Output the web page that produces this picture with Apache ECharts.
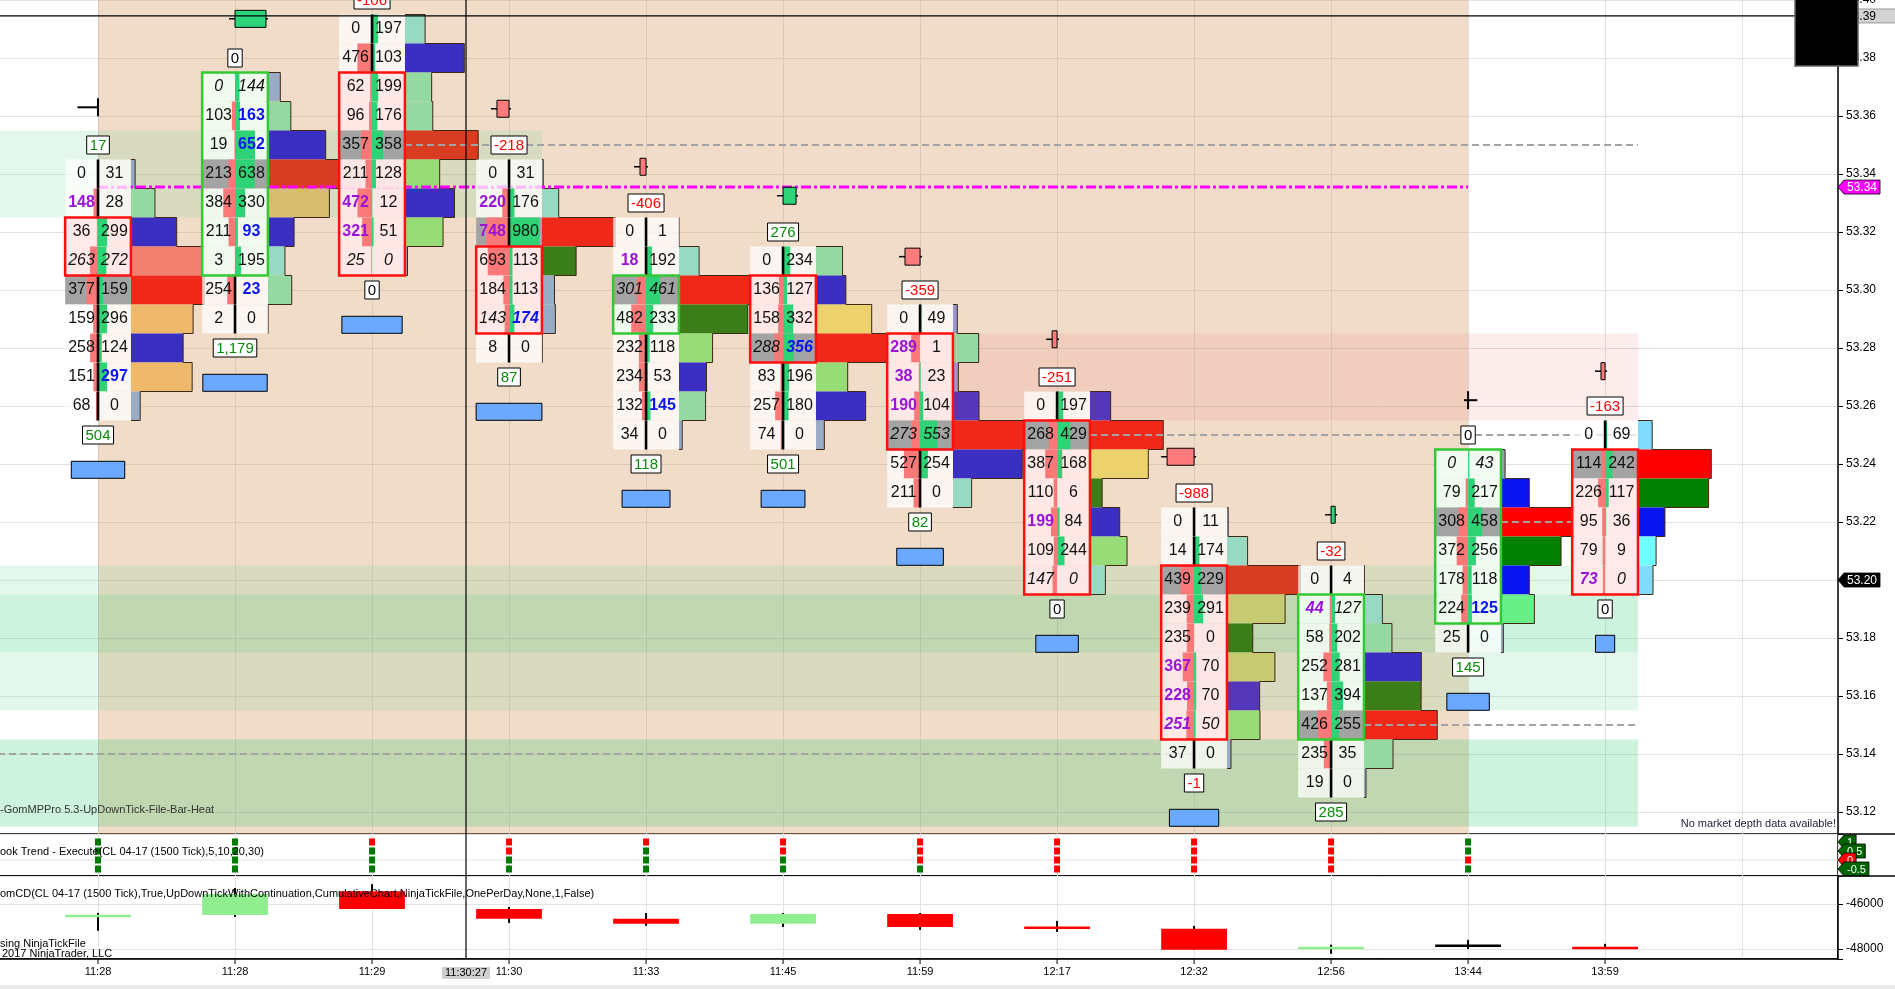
<!DOCTYPE html>
<html><head><meta charset="utf-8">
<script src="https://cdn.jsdelivr.net/npm/echarts@6/dist/echarts.min.js"></script>
<style>html,body{margin:0;padding:0;background:#fff;overflow:hidden}#c{width:1895px;height:989px}</style>
</head><body><div id="c"></div>
<script>
// ================= DATA =================
const times = ['11:28','11:28','11:29','11:30','11:33','11:45','11:59','12:17','12:32','12:56','13:44','13:59'];
const topPrice = [53.34,53.37,53.39,53.34,53.32,53.31,53.29,53.26,53.22,53.20,53.24,53.25];
const bidVol = [
 [0,148,36,263,377,159,258,151,68],
 [0,103,19,213,384,211,3,254,2],
 [0,476,62,96,357,211,472,321,25],
 [0,220,748,693,184,143,8],
 [0,18,301,482,232,234,132,34],
 [0,136,158,288,83,257,74],
 [0,289,38,190,273,527,211],
 [0,268,387,110,199,109,147],
 [0,14,439,239,235,367,228,251,37],
 [0,44,58,252,137,426,235,19],
 [0,79,308,372,178,224,25],
 [0,114,226,95,79,73]
];
const askVol = [
 [31,28,299,272,159,296,124,297,0],
 [144,163,652,638,330,93,195,23,0],
 [197,103,199,176,358,128,12,51,0],
 [31,176,980,113,113,174,0],
 [1,192,461,233,118,53,145,0],
 [234,127,332,356,196,180,0],
 [49,1,23,104,553,254,0],
 [197,429,168,6,84,244,0],
 [11,174,229,291,0,70,70,50,0],
 [4,127,202,281,394,255,35,0],
 [43,217,458,256,118,125,0],
 [69,242,117,36,9,0]
];
const bidImb = [[1],[],[6,7],[1,2],[1],[],[1,2,3],[4],[5,6,7],[1],[],[5]];
const askImb = [[7],[1,2,5,7],[],[5],[6],[3],[],[],[],[],[5],[]];
const closeRow = [3,0,8,5,2,3,4,6,7,1,0,5];
const pocRow = [4,3,4,2,2,3,4,1,2,5,2,1];
const stackFrom = [2,0,2,3,2,1,1,1,2,1,0,1];
const stackTo = [3,6,8,5,3,3,4,6,7,5,5,5];
const stackSide = ['R','G','R','R','G','R','R','R','R','G','G','R'];
const profColor = [
 ['SL','MG','B','S','R','O','B','O','SL'],
 ['SL','MG','B','RO','KH','B','TG','MG','SL'],
 ['TG','B','MG','MG','RO','LG','B','LG','SL'],
 ['SL','TG','R','G','SL','SL','SL'],
 ['SL','TG','R','G','LG','B','MG','SL'],
 ['MG','B','Y','R','LG','B','SL'],
 ['LV','MG','LV','P','R','B','TG'],
 ['P','R','Y','G','B','LG','TG'],
 ['SL','TG','RO','OL','G','OL','P','LG','SL'],
 ['SL','TG','MG','B','G','R','MG','SL'],
 ['LV','BB','RR','GG','BB','LG2','SL'],
 ['LB','RR','GG','BB','CY','LB']
];
const deltaTop = [17,0,-106,-218,-406,276,-359,-251,-988,-32,0,-163];
const deltaBottom = [504,1179,0,87,118,501,82,0,-1,285,145,0];
const rangeBox = [0.39,0.47,0.44,0.48,0.35,0.32,0.34,0.31,0.36,null,0.31,0.14];
const markerPrice = [53.363,53.3935,null,53.3625,53.3425,53.3325,53.3115,53.283,53.2425,53.2225,53.262,53.272];
const markerSize = [0,0.226,null,-0.088,-0.044,0.095,-0.11,-0.036,-0.197,0.03,0,-0.03];
const trend5  = [1,1,-1,-1,-1,-1,-1,-1,-1,-1,1,null];
const trend10 = [1,1,1,-1,1,-1,-1,-1,-1,-1,1,null];
const trend20 = [1,1,1,1,1,1,-1,-1,-1,-1,-1,null];
const trend30 = [1,1,1,1,1,1,1,-1,-1,-1,1,null];
const trendLevels = [1,0.5,0,-0.5];
const cdOpen  = [-46540,-46490,-45430,-46220,-46660,-46880,-46440,-47020,-47100,-48000,-47850,-47900];
const cdClose = [-46520,-45560,-46220,-46660,-46880,-46440,-47020,-47100,-48030,-47900,-47850,-48000];
const cdLow   = [-47190,-46570,-46220,-46840,-46970,-47020,-47150,-47240,-48030,-48210,-48000,-48000];
const cdHigh  = [-46400,-45290,-45120,-46130,-46400,-46400,-46400,-46750,-46970,-47810,-47590,-47770];
const vwapPrice = 53.3355, vwapFrom = 0, vwapTo = 10;
const lastPrice = 53.20;
const cursorBar = 2.686, cursorPrice = 53.3945, cursorTime = '11:30:27';

// ================= LAYOUT / SCALES =================
const AX = 1838, H0 = 834, H1 = 42, H2 = 83;
const X_MIN = -0.73, X_MAX = 12.70;
const Y_MAX = 53.40, Y_MIN = 53.40 - 834/2900;
const CD_MIN = -48444, CD_MAX = -44756;
const TICK = 0.01, HALF = 0.24, PROF = 0.535, STRIP = 0.0307/137;

const nakedPrice = [53.35, 53.25, 53.15, 53.22, 53.14];
const nakedFrom  = [2, 7, 9, 10 + HALF, X_MIN];
const nakedTo    = [11 + HALF, 11 + HALF, 11 + HALF, 11 - HALF, 8];
const zoneFrom = [0, X_MIN, X_MIN, X_MIN, X_MIN, X_MIN, 6];
const zoneTo   = [10, 3 + HALF, 11 + HALF, 11 + HALF, 11 + HALF, 11 + HALF, 11 + HALF];
const zoneLow  = [Y_MIN, 53.325, 53.195, 53.175, 53.155, 53.115, 53.255];
const zoneHigh = [Y_MAX, 53.355, 53.205, 53.195, 53.175, 53.145, 53.285];
const zoneKind = ['session','va','va','va2','va','va2','pink'];

const zoneFill = {session:'rgba(205,138,72,0.30)', va:'rgba(120,215,160,0.20)', va2:'rgba(20,200,100,0.21)', pink:'rgba(240,109,109,0.13)'};
const pal = {B:'#3b2fc2',P:'#5537b9',R:'#f0281a',RO:'#d93d21',G:'#3b7e17',LG:'#98dc78',MG:'#95d9a2',TG:'#98d9c4',
  Y:'#ebd26c',KH:'#d6bd6f',OL:'#c6cb72',O:'#eeb96a',S:'#f08171',SL:'#98acc6',LV:'#9a98d0',
  BB:'#0a14f0',RR:'#ff0000',GG:'#008000',CY:'#70ffff',LB:'#80dcff',LG2:'#68f088'};
const FF = '"Liberation Sans", Arial, sans-serif';

const mctx = document.createElement('canvas').getContext('2d');
function tw(t, font){ mctx.font = font; return mctx.measureText(t).width; }
function txt(t, x, y, fill, font, align){
  return {type:'text', style:{text:t, x:x, y:y, fill:fill, font:font, align:align||'center', verticalAlign:'middle', textAlign:align||'center', textVerticalAlign:'middle'}};
}
function rectBetween(a, b, style){
  return {type:'rect', shape:{x:Math.min(a[0],b[0]), y:Math.min(a[1],b[1]), width:Math.abs(b[0]-a[0]), height:Math.abs(b[1]-a[1])}, style:style};
}
function fmtNum(v){ return v.toLocaleString('en-US'); }
function numColor(v){ return v > 0 ? '#0a8a0a' : (v < 0 ? '#ff0000' : '#000'); }

// ================= RENDERERS =================
function renderZone(params, api){
  const k = api.value(0);
  const a = api.coord([zoneFrom[k], zoneHigh[k]]), b = api.coord([zoneTo[k], zoneLow[k]]);
  return rectBetween(a, b, {fill: zoneFill[zoneKind[k]]});
}
function renderProfile(params, api){
  const i = api.value(0);
  const top = topPrice[i], bids = bidVol[i], asks = askVol[i];
  const tot = bids.map((b,k)=>b+asks[k]);
  const mx = Math.max.apply(null, tot);
  const x0 = i + HALF;
  const ch = [], pts = [];
  tot.forEach((t,k)=>{
    const p = top - k*TICK;
    const a = api.coord([x0, p + TICK/2]), b = api.coord([x0 + t/mx*PROF, p - TICK/2]);
    ch.push(rectBetween(a, b, {fill: pal[profColor[i][k]]}));
    pts.push([b[0], a[1]], [b[0], b[1]]);
  });
  const s = api.coord([x0, top + TICK/2]);
  const e = api.coord([x0, top - (tot.length-1)*TICK - TICK/2]);
  ch.push({type:'polyline', shape:{points:[s].concat(pts).concat([e])}, style:{stroke:'#3e2814', lineWidth:1, fill:'none'}});
  return {type:'group', children:ch};
}
function renderLines(params, api){
  const k = api.value(0);
  if (k < nakedPrice.length){
    const a = api.coord([nakedFrom[k], nakedPrice[k]]), b = api.coord([nakedTo[k], nakedPrice[k]]);
    return {type:'line', shape:{x1:a[0], y1:a[1], x2:b[0], y2:b[1]}, style:{stroke:'#a3a3a3', lineWidth:2, lineDash:[7,4]}};
  }
  const a = api.coord([vwapFrom, vwapPrice]), b = api.coord([vwapTo, vwapPrice]);
  return {type:'line', shape:{x1:a[0], y1:a[1], x2:b[0], y2:b[1]}, style:{stroke:'#ff00ff', lineWidth:3, lineDash:[10,3,3,3]}};
}
function renderCells(params, api){
  const i = api.value(0);
  const top = topPrice[i], bids = bidVol[i], asks = askVol[i], n = bids.length;
  const sF = stackFrom[i], sT = stackTo[i], side = stackSide[i];
  const ch = [];
  for (let k = 0; k < n; k++){
    const p = top - k*TICK;
    const a = api.coord([i - HALF, p + TICK/2]);
    const m = api.coord([i, p - TICK/2]);
    const b = api.coord([i + HALF, p - TICK/2]);
    const y0 = a[1], h = m[1] - a[1];
    const inBox = k >= sF && k <= sT;
    let bg = 'rgba(255,255,255,0.74)';
    if (inBox) bg = side === 'R' ? 'rgba(255,232,232,0.95)' : 'rgba(240,251,240,0.95)';
    if (k === pocRow[i]) bg = '#a3a3a3';
    ch.push({type:'rect', shape:{x:a[0], y:y0, width:b[0]-a[0], height:h}, style:{fill:bg}});
    const wb = Math.min(bids[k]*STRIP, HALF), wa = Math.min(asks[k]*STRIP, HALF);
    const pb = api.coord([i - wb, p]), pa = api.coord([i + wa, p]);
    if (bids[k] > 0) ch.push({type:'rect', shape:{x:pb[0], y:y0, width:m[0]-pb[0], height:h}, style:{fill:'#fa7878'}});
    if (asks[k] > 0) ch.push({type:'rect', shape:{x:m[0], y:y0, width:pa[0]-m[0], height:h}, style:{fill:'#2fd274'}});
    if (!inBox) ch.push({type:'rect', shape:{x:m[0]-1.3, y:y0, width:2.6, height:h}, style:{fill:'#000'}});
    const it = k === closeRow[i] ? 'italic ' : '';
    const bI = bidImb[i].indexOf(k) >= 0, aI = askImb[i].indexOf(k) >= 0;
    const cy = (y0 + m[1]) / 2;
    const lx = api.coord([i - HALF/2, p])[0], rx = api.coord([i + HALF/2, p])[0];
    ch.push(txt(String(bids[k]), lx, cy, bI ? '#9a14d8' : '#111', it + (bI ? 'bold ' : '') + '16px ' + FF));
    ch.push(txt(String(asks[k]), rx, cy, aI ? '#0a14f0' : '#111', it + (aI ? 'bold ' : '') + '16px ' + FF));
  }
  const ta = api.coord([i - HALF, top - sF*TICK + TICK/2]), tb = api.coord([i + HALF, top - sT*TICK - TICK/2]);
  ch.push(rectBetween(ta, tb, {fill:'none', stroke: side === 'R' ? '#ff1010' : '#33c933', lineWidth:2.5}));
  return {type:'group', children:ch};
}
function labelBox(t, x, y, color){
  const f = '15px ' + FF;
  const w = tw(t, f) + 6;
  return [
    {type:'rect', shape:{x:x - w/2, y:y - 9, width:w, height:18}, style:{fill:'#fff', stroke:'#000', lineWidth:1}},
    txt(t, x, y + 0.5, color, f)
  ];
}
function renderNotes(params, api){
  const i = api.value(0);
  const top = topPrice[i], low = top - (bidVol[i].length - 1)*TICK;
  let ch = [];
  const pt = api.coord([i, top + TICK]);
  ch = ch.concat(labelBox(fmtNum(deltaTop[i]), pt[0], pt[1], numColor(deltaTop[i])));
  const pbm = api.coord([i, low - TICK]);
  ch = ch.concat(labelBox(fmtNum(deltaBottom[i]), pbm[0], pbm[1], numColor(deltaBottom[i])));
  if (rangeBox[i] != null){
    const c = api.coord([i, low - 2.2*TICK]);
    const l = api.coord([i - rangeBox[i]/2, low])[0], r = api.coord([i + rangeBox[i]/2, low])[0];
    ch.push({type:'rect', shape:{x:l, y:c[1]-8.5, width:r-l, height:17}, style:{fill:'#6aa9ff', stroke:'#000', lineWidth:1}});
  }
  if (markerPrice[i] != null){
    const c = api.coord([i, markerPrice[i]]);
    const s = markerSize[i];
    if (s === 0){
      const l = api.coord([i - (i === 0 ? 0.15 : 0.03), markerPrice[i]]);
      const r = api.coord([i + (i === 0 ? 0 : 0.06), markerPrice[i]]);
      ch.push({type:'line', shape:{x1:l[0], y1:c[1], x2:r[0]+1, y2:c[1]}, style:{stroke:'#000', lineWidth:2}});
      ch.push({type:'line', shape:{x1:c[0], y1:c[1]-9, x2:c[0], y2:c[1]+9}, style:{stroke:'#000', lineWidth:2}});
    } else {
      const e = api.coord([i + s, markerPrice[i]]);
      const l = Math.min(c[0], e[0]), r = Math.max(c[0], e[0]);
      ch.push({type:'line', shape:{x1:l-6, y1:c[1], x2:r+2, y2:c[1]}, style:{stroke:'#000', lineWidth:1.5}});
      ch.push({type:'rect', shape:{x:l, y:c[1]-8.5, width:Math.max(r-l,4), height:17}, style:{fill: s > 0 ? '#2ed47a' : '#ff7b7b', stroke:'#000', lineWidth:1}});
    }
  }
  return {type:'group', children:ch};
}
function axisTag(x, y, t, fill, color, font){
  const w = tw(t, font) + 6;
  return [
    {type:'polygon', shape:{points:[[x, y],[x+6, y-7],[x+6+w, y-7],[x+6+w, y+7],[x+6, y+7]]}, style:{fill:fill, stroke:'#000', lineWidth:0.8}},
    txt(t, x + 6 + w/2, y + 0.5, color, font)
  ];
}
function renderTags(params, api){
  const k = api.value(0);
  const f = '12px ' + FF;
  if (k === 0){
    const c = api.coord([X_MAX, vwapPrice]);
    return {type:'group', children: axisTag(c[0], c[1], vwapPrice.toFixed(2), '#ff00ff', '#fff', f)};
  }
  if (k === 1){
    const c = api.coord([X_MAX, lastPrice]);
    return {type:'group', children: axisTag(c[0], c[1], lastPrice.toFixed(2), '#000', '#fff', f)};
  }
  const c = api.coord([X_MAX, cursorPrice]);
  const l = api.coord([X_MIN, cursorPrice]);
  return {type:'group', children:[
    {type:'line', shape:{x1:l[0], y1:c[1], x2:c[0], y2:c[1]}, style:{stroke:'#000', lineWidth:1.2}},
    {type:'rect', shape:{x:c[0], y:c[1]-7, width:60, height:14}, style:{fill:'#d3d3d3', stroke:'#888', lineWidth:0.8}},
    txt(cursorPrice.toFixed(2), c[0] + 8, c[1] + 0.5, '#000', f, 'left')
  ]};
}
const trendRows = [trend5, trend10, trend20, trend30];
function renderTrend(params, api){
  const i = api.value(0);
  const ch = [];
  if (i === 0){
    const a = api.coord([X_MIN, 0]), b = api.coord([X_MAX, 0]);
    ch.push({type:'line', shape:{x1:a[0], y1:a[1], x2:b[0], y2:b[1]}, style:{stroke:'#e2e2e2', lineWidth:1}});
  }
  trendRows.forEach((row, r)=>{
    if (row[i] == null) return;
    const c = api.coord([i, trendLevels[r]]);
    ch.push({type:'rect', shape:{x:c[0]-3, y:c[1]-3.5, width:6, height:7}, style:{fill: row[i] > 0 ? '#007a00' : '#ff0000'}});
  });
  if (i === 0){
    let lastIdx = trend5.length - 1;
    while (lastIdx > 0 && trend5[lastIdx] == null) lastIdx--;
    trendRows.forEach((row, r)=>{
      const c = api.coord([X_MAX, trendLevels[r]]);
      const up = row[lastIdx] > 0;
      axisTag(c[0], c[1], String(trendLevels[r]), up ? '#006400' : '#ff0000', '#fff', '11px ' + FF).forEach(e=>ch.push(e));
    });
  }
  return {type:'group', children:ch};
}
function renderCD(params, api){
  const i = api.value(0);
  const o = cdOpen[i], c = cdClose[i];
  const hi = api.coord([i, cdHigh[i]]), lo = api.coord([i, cdLow[i]]);
  const a = api.coord([i - HALF, Math.max(o, c)]), b = api.coord([i + HALF, Math.min(o, c)]);
  const col = c > o ? '#90ee90' : (c < o ? '#ff0000' : '#000');
  const h = Math.max(b[1] - a[1], 2.5);
  const base = api.coord([i, CD_MIN]);
  return {type:'group', children:[
    {type:'line', shape:{x1:base[0], y1:base[1], x2:base[0], y2:base[1]+5}, style:{stroke:'#000', lineWidth:1}},
    {type:'line', shape:{x1:hi[0], y1:hi[1], x2:lo[0], y2:lo[1]}, style:{stroke:'#000', lineWidth:2}},
    {type:'rect', shape:{x:a[0], y:(a[1]+b[1])/2 - h/2, width:b[0]-a[0], height:h}, style:{fill:col}}
  ]};
}

// ================= OPTION =================
const idx = times.map((t,i)=>[i, topPrice[i]]);
const isMult = (v, s) => Math.abs(v/s - Math.round(v/s)) < 1e-6;
const xBase = {type:'value', min:X_MIN, max:X_MAX, minInterval:1, maxInterval:1,
  splitLine:{show:true, lineStyle:{color:'#e2e2e2', width:1}}, axisLine:{show:false, onZero:false}, axisTick:{show:false}, axisLabel:{show:false}};
const gridLine = {show:true, lineStyle:{color:'#e2e2e2', width:1}};

const option = {
  animation:false,
  backgroundColor:'#fff',
  grid:[
    {left:-2, top:0, width:AX+2, height:H0, show:false, containLabel:false, outerBoundsMode:'none'},
    {left:-2, top:H0, width:AX+2, height:H1, show:true, borderColor:'#000', borderWidth:1.5, backgroundColor:'transparent', containLabel:false, outerBoundsMode:'none'},
    {left:-2, top:H0+H1, width:AX+2, height:H2, show:true, borderColor:'#000', borderWidth:1.5, backgroundColor:'transparent', containLabel:false, outerBoundsMode:'none'}
  ],
  xAxis:[
    Object.assign({}, xBase, {gridIndex:0}),
    Object.assign({}, xBase, {gridIndex:1}),
    Object.assign({}, xBase, {gridIndex:2, axisLine:{show:true, onZero:false, lineStyle:{color:'#000', width:1.5}},
      axisTick:{show:false},
      axisLabel:{show:true, color:'#000', fontSize:11, fontFamily:FF, margin:7, showMinLabel:false, showMaxLabel:false,
        formatter:(v)=>{ const r = Math.round(v); return (Math.abs(v-r)<1e-6 && r>=0 && r<times.length) ? times[r] : ''; }}})
  ],
  yAxis:[
    {gridIndex:0, type:'value', position:'right', min:Y_MIN, max:Y_MAX, minInterval:0.02, maxInterval:0.02,
      axisLine:{show:true, onZero:false, lineStyle:{color:'#000', width:1.5}}, axisTick:{show:true, length:5, lineStyle:{color:'#000'}},
      axisLabel:{color:'#000', fontSize:12, fontFamily:FF, margin:8, formatter:(v)=> isMult(v, 0.02) ? v.toFixed(2) : ''},
      splitLine:gridLine},
    {gridIndex:1, type:'value', position:'right', min:-0.889, max:1.444, axisLine:{show:false, onZero:false}, axisTick:{show:false}, axisLabel:{show:false}, splitLine:{show:false}},
    {gridIndex:2, type:'value', position:'right', min:CD_MIN, max:CD_MAX, minInterval:2000, maxInterval:2000,
      axisLine:{show:true, onZero:false, lineStyle:{color:'#000', width:1.5}}, axisTick:{show:true, length:5, lineStyle:{color:'#000'}},
      axisLabel:{color:'#000', fontSize:12, fontFamily:FF, margin:8, formatter:(v)=> isMult(v, 2000) ? String(v) : ''},
      splitLine:gridLine}
  ],
  series:[
    {type:'custom', name:'zones', xAxisIndex:0, yAxisIndex:0, z:1, silent:true, data: zoneKind.map((k,i)=>[i, zoneLow[i]]), renderItem:renderZone},
    {type:'custom', name:'profile', xAxisIndex:0, yAxisIndex:0, z:2, silent:true, data:idx, renderItem:renderProfile},
    {type:'custom', name:'levels', xAxisIndex:0, yAxisIndex:0, z:3, silent:true, data: nakedPrice.map((p,i)=>[i, p]).concat([[nakedPrice.length, vwapPrice]]), renderItem:renderLines},
    {type:'custom', name:'cells', xAxisIndex:0, yAxisIndex:0, z:4, silent:true, data:idx, renderItem:renderCells},
    {type:'custom', name:'notes', xAxisIndex:0, yAxisIndex:0, z:5, silent:true, data:idx, renderItem:renderNotes},
    {type:'custom', name:'tags', xAxisIndex:0, yAxisIndex:0, z:8, silent:true, data:[[0,vwapPrice],[1,lastPrice],[2,cursorPrice]], renderItem:renderTags},
    {type:'custom', name:'trend', xAxisIndex:1, yAxisIndex:1, z:5, silent:true, data: times.map((t,i)=>[i,0]), renderItem:renderTrend},
    {type:'custom', name:'cd', xAxisIndex:2, yAxisIndex:2, z:5, silent:true, data: times.map((t,i)=>[i,cdClose[i]]), renderItem:renderCD}
  ]
};
const chart = echarts.init(document.getElementById('c'));
chart.setOption(option);

const cp = chart.convertToPixel({gridIndex:0}, [cursorBar, cursorPrice]);
const tf = '11px ' + FF;
const ctw = tw(cursorTime, tf) + 6;
chart.setOption({graphic:[
  {type:'line', z:50, shape:{x1:cp[0], y1:0, x2:cp[0], y2:H0+H1+H2}, style:{stroke:'#000', lineWidth:1.2}},
  {type:'rect', z:50, shape:{x:cp[0]-ctw/2, y:H0+H1+H2+8, width:ctw, height:12}, style:{fill:'#d0d0d0'}},
  {type:'text', z:51, x:cp[0], y:H0+H1+H2+14, style:{text:cursorTime, font:tf, fill:'#000', align:'center', verticalAlign:'middle'}},
  {type:'line', z:50, shape:{x1:AX, y1:H0, x2:1895, y2:H0}, style:{stroke:'#000', lineWidth:1.5}},
  {type:'line', z:50, shape:{x1:AX, y1:H0+H1, x2:1895, y2:H0+H1}, style:{stroke:'#000', lineWidth:1.5}},
  {type:'rect', z:60, shape:{x:1795, y:-2, width:63, height:68}, style:{fill:'#000', stroke:'#666', lineWidth:1.5}},
  {type:'text', z:50, x:0, y:810, style:{text:'-GomMPPro 5.3-UpDownTick-File-Bar-Heat', font:tf, fill:'#333', align:'left', verticalAlign:'middle'}},
  {type:'text', z:50, x:1836, y:824, style:{text:'No market depth data available!', font:tf, fill:'#1e1e3c', align:'right', verticalAlign:'middle'}},
  {type:'text', z:50, x:0, y:852, style:{text:'ook Trend - Execute(CL 04-17 (1500 Tick),5,10,20,30)', font:tf, fill:'#000', align:'left', verticalAlign:'middle'}},
  {type:'text', z:50, x:0, y:894, style:{text:'omCD(CL 04-17 (1500 Tick),True,UpDownTickWithContinuation,CumulativeChart,NinjaTickFile,OnePerDay,None,1,False)', font:tf, fill:'#000', align:'left', verticalAlign:'middle'}},
  {type:'text', z:50, x:0, y:944, style:{text:'sing NinjaTickFile', font:tf, fill:'#000', align:'left', verticalAlign:'middle'}},
  {type:'text', z:50, x:2, y:954, style:{text:'2017 NinjaTrader, LLC', font:tf, fill:'#000', align:'left', verticalAlign:'middle'}},
  {type:'rect', z:50, shape:{x:0, y:985, width:1895, height:4}, style:{fill:'#e8e8e8'}}
]});
</script>
</body></html>
